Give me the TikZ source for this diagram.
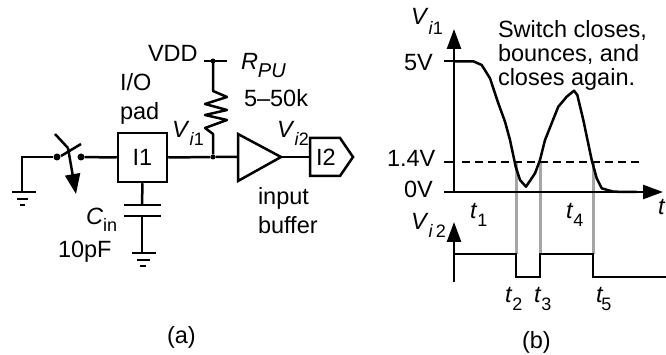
\documentclass[tikz,border=0pt]{standalone}
\usepackage{fontspec}
\setmainfont{Liberation Sans}
\usetikzlibrary{arrows.meta}
\newcommand{\lowsub}[2][8]{\raisebox{-#1pt}{\fontsize{18}{18}\selectfont #2}}
\tikzset{
  lbl/.style={anchor=base west,inner sep=0pt,outer sep=0pt,font=\fontsize{23.5}{24}\selectfont},
  wire/.style={line width=2.5pt,line cap=butt,line join=miter},
  axis/.style={wire,-{Triangle[length=20pt,width=14pt]}},
  wave/.style={line width=2.5pt,line join=round},
  grayline/.style={line width=3pt,draw=black!35},
  termbox/.style={draw,line width=2.5pt,minimum width=49pt,minimum height=49pt,inner sep=0pt,font=\fontsize{23.5}{24}\selectfont},
  jdot/.style={circle,fill,inner sep=0pt,minimum size=5pt},
  sdot/.style={circle,fill,inner sep=0pt,minimum size=7pt},
}
\begin{document}
\begin{tikzpicture}[x=1pt,y=-1pt]
\useasboundingbox (0,0) rectangle (666,355);
% switch and ground
\coordinate (g1) at (22,192);
\coordinate (g1t) at (22,157);
\node[sdot] (s1) at (57,157) {};
\node[sdot] (s2) at (81,157) {};
\node[termbox] (i1) at (142.5,157.5) {I1};
\draw[wire] (g1) -- (g1t) -- (s1);
\draw[wire] (s2) -- (i1.west);
\draw[wire] (12,192) -- (36,192);
\draw[wire] (17,199) -- (28,199);
\draw[wire] (20,205) -- (25,205);
\coordinate (bl1) at (55,134);
\coordinate (bl2) at (68,148);
\coordinate (bl3) at (76,194);
\coordinate (cb1) at (61,156);
\coordinate (cb2) at (81,144);
\draw[wire] (bl1) -- (bl2);
\draw[wire] (cb1) -- (cb2);
\draw[wire,-{Triangle[length=20pt,width=15pt]}] (bl2) -- (bl3);
% capacitor
\coordinate (c1) at (142,205);
\coordinate (c2) at (142,216);
\coordinate (g2) at (142,253);
\draw[wire] (i1.south) -- (c1);
\draw[wire] (124,205) -- (161,205);
\draw[wire] (124,216) -- (161,216);
\draw[wire] (c2) -- (g2);
\draw[wire] (132,253) -- (156,253);
\draw[wire] (137,260) -- (150,260);
\draw[wire] (140,266) -- (146,266);
% VDD and resistor
\coordinate (vdd) at (213,61);
\node[jdot] (vdot) at (vdd) {};
\node[jdot] (jn) at (213,157) {};
\draw[wire] (204,61) -- (227,61);
\draw[wire,line join=round] (vdd) -- (213,91) -- (227,97) -- (205,104) -- (227,110) -- (205,115) -- (227,120) -- (205,128) -- (213,134) -- (jn);
% buffer
\coordinate (b1) at (238,134);
\coordinate (b2) at (238,181);
\coordinate (b3) at (281,157);
\draw[wire] (b1) -- (b3) -- (b2) -- cycle;
\coordinate (i2l) at (310,157);
\draw[wire] (i1.east) -- (jn) -- (238,157);
\draw[wire] (b3) -- (i2l);
\draw[wire] (310,138) -- (340,138) -- (353,157) -- (340,176) -- (310,176) -- cycle;
\node[inner sep=0pt,font=\fontsize{23.5}{24}\selectfont] (i2) at (326,157) {I2};
% labels a
\node[lbl] (lvdd) at (148,62) {VDD};
\node[lbl] (lio) at (120,91) {I/O};
\node[lbl] (lpad) at (120,120) {pad};
\node[lbl] (lc) at (86,225) {\textit{C}\lowsub[7]{in}};
\node[lbl] (l10) at (58,258) {10pF};
\node[lbl] (lrpu) at (241,70) {\textit{R}\raisebox{-8pt}{\fontsize{20}{20}\selectfont\textit{PU}}};
\node[lbl] (lk) at (244,107) {5–50k};
\node[lbl] (lv1) at (172,138) {\textit{V}\lowsub{\textit{i}1}};
\node[lbl] (lv2) at (277,138) {\textit{V}\lowsub{\textit{i}2}};
\node[lbl] (lin) at (258,205) {input};
\node[lbl] (lbu) at (258,234) {buffer};
\node[lbl] (la) at (167,343) {(a)};
% timing b: gray lines first
\coordinate (o) at (454,192);
\draw[grayline] (516,162) -- (516,254);
\draw[grayline] (540,162) -- (540,254);
\draw[grayline] (593,162) -- (593,254);
\draw[axis] (454,193) -- (454,29);
\draw[axis] (444,192) -- (663,192);
\draw[wire] (444,61) -- (454,61);
\draw[wire] (444,162) -- (454,162);
\draw[wire,dash pattern=on 8pt off 5pt] (462,162) -- (640,162);
\draw[wave] (454.3,61.3) -- (473.3,61.3) -- (481.7,65) -- (490,78.3) -- (498.3,103.3) -- (505,121.7) -- (510,140) -- (515.7,166.7) -- (520,180) -- (526,186.7) -- (535,173.3) -- (540,160) -- (545,140) -- (558.3,106.7) -- (566.7,96.7) -- (574,90.7) -- (577.3,95) -- (583.3,120) -- (591.7,160) -- (596.7,178.3) -- (601.7,188.3) -- (613.3,191.7) -- (636.7,192);
\draw[wire] (454,282) -- (454,241) ;
\draw[axis] (454,250) -- (454,222);
\draw[wire,line join=miter] (454,254) -- (516,254) -- (516,277) -- (540,277) -- (540,254) -- (593,254) -- (593,277) -- (666,277);
% labels b
\node[lbl] (lvi1) at (411,25) {\textit{V}\lowsub[10]{\textit{i}1}};
\node[lbl] (lvi2) at (411,230) {\textit{V}\lowsub[7.5]{\textit{i}\,2}};
\node[lbl] (l5) at (404,71) {5V};
\node[lbl] (l14) at (387,167) {1.4V};
\node[lbl] (l0) at (404,198) {0V};
\node[lbl] (ls1) at (498,38) {Switch closes,};
\node[lbl] (ls2) at (498,62) {bounces, and};
\node[lbl] (ls3) at (498,86) {closes again.};
\node[lbl] (t1) at (470,219) {\textit{t}\lowsub{1}};
\node[lbl] (t4) at (566,219) {\textit{t}\lowsub{4}};
\node[lbl] (t2) at (505,302) {\textit{t}\lowsub{2}};
\node[lbl] (t3) at (534,302) {\textit{t}\lowsub{3}};
\node[lbl] (t5) at (596,302) {\textit{t}\kern-2pt\lowsub{5}};
\node[lbl,anchor=base east] (tt) at (665.5,215) {\textit{t}};
\node[lbl] (lb) at (522,348) {(b)};
\end{tikzpicture}
\end{document}
